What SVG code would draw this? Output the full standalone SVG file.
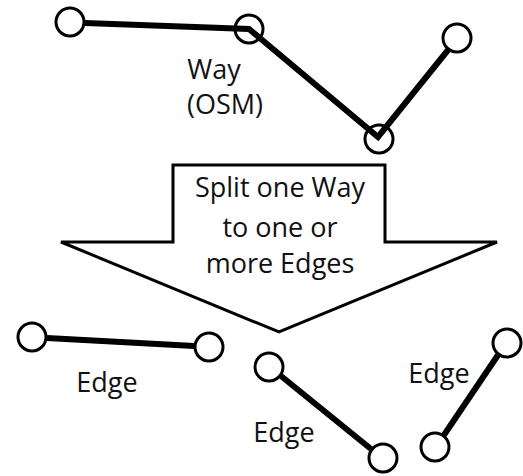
<svg xmlns="http://www.w3.org/2000/svg" width="523" height="476" viewBox="0 0 523 476">
<style>
.n{fill:#fff;stroke:#000;stroke-width:3}
.c{fill:none;stroke:#000;stroke-width:6;stroke-linejoin:miter;stroke-linecap:butt}
.t{font-family:"Open Sans","Liberation Sans",sans-serif;font-size:27px;fill:#111;text-anchor:middle}
.a{fill:#fff;stroke:#000;stroke-width:3;stroke-linejoin:miter}
</style>
<rect width="523" height="476" fill="#fff"/>
<g id="way-nodes">
<circle id="w1" class="n" cx="70" cy="22" r="14"/>
<circle id="w2" class="n" cx="249" cy="29" r="14"/>
<circle id="w3" class="n" cx="457" cy="38" r="14"/>
<circle id="w4" class="n" cx="379" cy="139" r="14"/>
</g>
<g id="edge-nodes">
<circle id="e1a" class="n" cx="32" cy="337" r="14"/>
<circle id="e1b" class="n" cx="209" cy="347" r="14"/>
<circle id="e2a" class="n" cx="269" cy="367" r="14"/>
<circle id="e2b" class="n" cx="383" cy="458" r="14"/>
<circle id="e3a" class="n" cx="435" cy="447" r="14"/>
<circle id="e3b" class="n" cx="507" cy="343" r="14"/>
</g>
<g id="connectors">
<polyline class="c" points="85,23 249,29 378,137 448,50"/>
<line class="c" x1="47" y1="338" x2="194" y2="346"/>
<line class="c" x1="281" y1="376" x2="371" y2="449"/>
<line class="c" x1="444" y1="435" x2="498" y2="355"/>
</g>
<g id="way-label">
<text class="t" x="214" y="79">Way</text>
<text class="t" x="225" y="114">(OSM)</text>
</g>
<g id="split-arrow">
<polygon class="a" points="173,165 385,165 385,242 497,242 279,332 61,242 173,242"/>
<text class="t" x="280" y="197">Split one Way</text>
<text class="t" x="280" y="237">to one or</text>
<text class="t" x="280" y="273">more Edges</text>
</g>
<g id="edge-labels">
<text class="t" x="107" y="392">Edge</text>
<text class="t" x="284" y="442">Edge</text>
<text class="t" x="439" y="383">Edge</text>
</g>
</svg>
